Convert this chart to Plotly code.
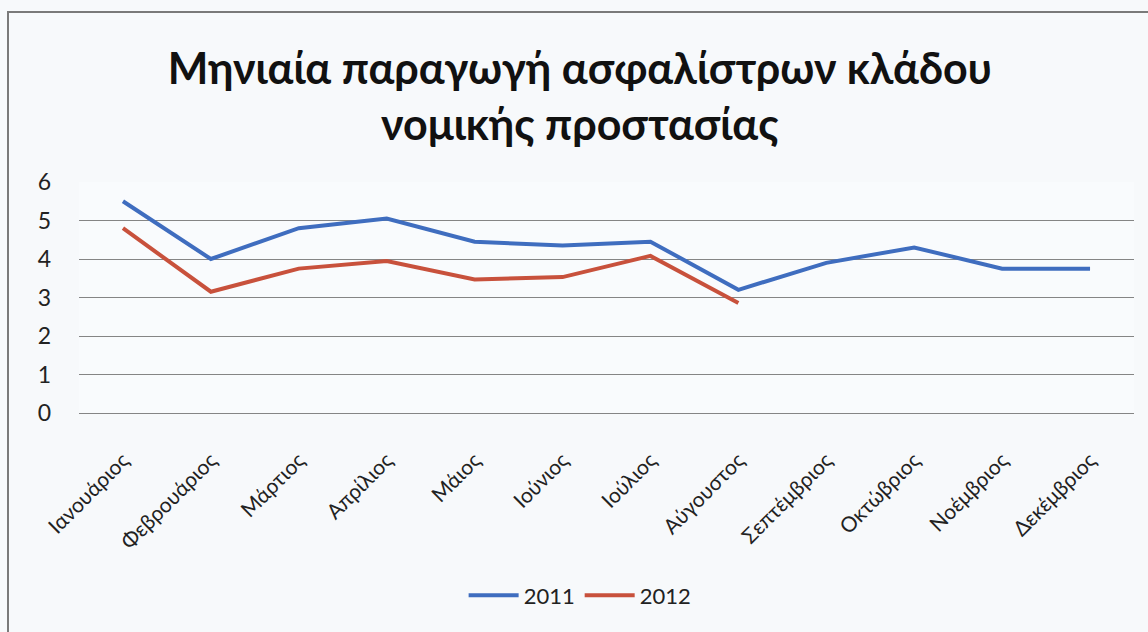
import plotly.graph_objects as go

# Monthly premium production, legal protection line
months = ["Ιανουάριος", "Φεβρουάριος", "Μάρτιος", "Απρίλιος", "Μάιος", "Ιούνιος",
          "Ιούλιος", "Αύγουστος", "Σεπτέμβριος", "Οκτώβριος", "Νοέμβριος", "Δεκέμβριος"]
values_2011 = [5.5, 4.0, 4.8, 5.05, 4.45, 4.35, 4.45, 3.2, 3.9, 4.3, 3.75, 3.75]
months_2012 = months[:8]
values_2012 = [4.8, 3.15, 3.75, 3.95, 3.47, 3.53, 4.08, 2.86]
y_ticks = [0, 1, 2, 3, 4, 5, 6]

BLUE = "#3f6dbf"
RED = "#c8513c"
FONT = "Lato"

fig = go.Figure()
fig.add_trace(go.Scatter(x=months, y=values_2011, mode="lines", name="2011",
                         line=dict(color=BLUE, width=4)))
fig.add_trace(go.Scatter(x=months_2012, y=values_2012, mode="lines", name="2012",
                         line=dict(color=RED, width=4)))

fig.update_layout(
    width=1148, height=632,
    margin=dict(l=79, r=14, t=182, b=219),
    paper_bgcolor="#f7f9fb",
    plot_bgcolor="#f9fbfd",
    font=dict(family=FONT, color="#222222"),
    title=dict(
        text="<b>Μηνιαία παραγωγή ασφαλίστρων κλάδου<br>νομικής προστασίας</b>",
        x=0.505, xanchor="center", xref="container",
        y=1 - 84 / 632, yanchor="top", yref="container",
        font=dict(family=FONT, size=43, color="#111111"),
    ),
    showlegend=True,
    legend=dict(orientation="h", x=0.475, xanchor="center", y=-0.79, yanchor="middle",
                font=dict(family=FONT, size=22, color="#222222"),
                bgcolor="rgba(0,0,0,0)", itemwidth=50, tracegroupgap=0),
    xaxis=dict(
        type="category", categoryorder="array", categoryarray=months,
        range=[-0.5, 11.5], showgrid=False, showline=False, ticks="",
        tickangle=-45, tickfont=dict(family=FONT, size=21, color="#222222"),
        ticklabelstandoff=30,
    ),
    yaxis=dict(
        range=[0, 6], tickvals=y_ticks, showgrid=True, gridcolor="#858585", gridwidth=1.4,
        zeroline=True, zerolinecolor="#858585", zerolinewidth=1.4, showline=False,
        tickfont=dict(family=FONT, size=23, color="#222222"), ticklabelstandoff=27,
    ),
    shapes=[
        # outer chart frame, running past the right and bottom edges
        dict(type="rect", xref="paper", yref="paper",
             x0=(8 - 79) / 1055, x1=1.05, y0=-1.2, y1=(413 - 12) / 231,
             line=dict(color="#7a7a7a", width=2), fillcolor="rgba(0,0,0,0)", layer="below"),
    ],
)

fig.write_html("out.html")
